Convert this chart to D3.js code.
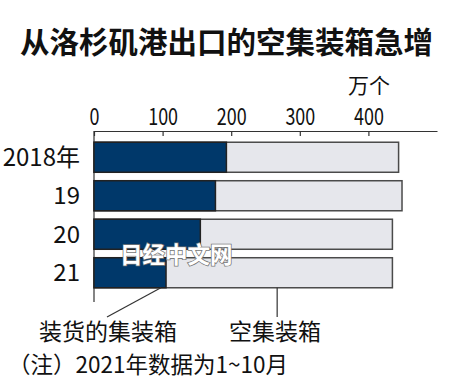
<!DOCTYPE html>
<html>
<head>
<meta charset="utf-8">
<script src="https://cdn.jsdelivr.net/npm/d3@7"></script>
<style>
  body { margin: 0; background: #fff; }
  text { font-family: "Noto Sans CJK SC", "Noto Sans", sans-serif; fill: #111; }
</style>
</head>
<body>
<script>
// data (万个)
var years = ["2018年", "19", "20", "21"];
var loaded = [193, 177, 155, 105];
var empty = [251, 272, 280, 330];
var ticks = [0, 100, 200, 300, 400];

var rows = years.map(function(y, i) {
  return { year: y, loaded: loaded[i], empty: empty[i] };
});

var svgWidth = 450, svgHeight = 386;

var svg = d3.select("body")
  .append("svg")
  .attr("width", svgWidth)
  .attr("height", svgHeight);

// title
svg.append("text")
  .attr("x", 20)
  .attr("y", 53)
  .attr("font-size", 29.5)
  .attr("font-weight", "bold")
  .text("从洛杉矶港出口的空集装箱急增");

var xScale = d3.scaleLinear()
  .domain([0, 500])
  .range([94, 437]);

var yScale = d3.scaleBand()
  .domain(years)
  .range([138, 292])
  .paddingInner(0.22)
  .paddingOuter(0.11);

// unit label
svg.append("text")
  .attr("x", 369)
  .attr("y", 93)
  .attr("text-anchor", "middle")
  .attr("font-size", 21)
  .text("万个");

// top axis
var xAxis = d3.axisTop(xScale).tickValues(ticks).tickSize(5).tickSizeOuter(0);
var axisG = svg.append("g")
  .attr("transform", "translate(0,131)")
  .call(xAxis);
axisG.select(".domain").attr("stroke", "#333").attr("stroke-width", 1.2);
axisG.selectAll(".tick line").attr("stroke", "#333").attr("stroke-width", 1.2)
  .attr("y2", 5);
axisG.selectAll(".tick text")
  .attr("y", -6)
  .attr("font-size", 23)
  .attr("font-family", "Noto Sans CJK SC")
  .attr("fill", "#111")
  .attr("transform", "scale(0.78,1)");

// left vertical line
svg.append("line")
  .attr("x1", xScale(0)).attr("x2", xScale(0))
  .attr("y1", 131).attr("y2", 302)
  .attr("stroke", "#333").attr("stroke-width", 1.2);

// bars
var barG = svg.append("g");
barG.selectAll(".total")
  .data(rows)
  .enter()
  .append("rect")
  .attr("class", "total")
  .attr("x", xScale(0))
  .attr("y", d => yScale(d.year))
  .attr("width", d => xScale(d.loaded + d.empty) - xScale(0))
  .attr("height", yScale.bandwidth())
  .attr("fill", "#e6e7ec")
  .attr("stroke", "#4a4a4a")
  .attr("stroke-width", 1.5);

barG.selectAll(".loaded")
  .data(rows)
  .enter()
  .append("rect")
  .attr("class", "loaded")
  .attr("x", xScale(0))
  .attr("y", d => yScale(d.year))
  .attr("width", d => xScale(d.loaded) - xScale(0))
  .attr("height", yScale.bandwidth())
  .attr("fill", "#00386a")
  .attr("stroke", "#222")
  .attr("stroke-width", 1.5);

// year labels
svg.selectAll(".ylab")
  .data(rows)
  .enter()
  .append("text")
  .attr("class", "ylab")
  .attr("x", 80)
  .attr("y", d => yScale(d.year) + yScale.bandwidth() / 2 + 8.5)
  .attr("text-anchor", "end")
  .attr("font-size", 24)
  .text(d => d.year);

// leader lines
var last = rows[rows.length - 1];
var barBottom = yScale(last.year) + yScale.bandwidth();
svg.append("line")
  .attr("x1", xScale(last.loaded / 2 + 45)).attr("y1", barBottom)
  .attr("x2", 107).attr("y2", 317)
  .attr("stroke", "#333").attr("stroke-width", 1.2);
svg.append("line")
  .attr("x1", xScale(267)).attr("x2", xScale(267))
  .attr("y1", barBottom).attr("y2", 317)
  .attr("stroke", "#333").attr("stroke-width", 1.2);

// legend labels
svg.append("text")
  .attr("x", 39).attr("y", 340)
  .attr("font-size", 23)
  .text("装货的集装箱");
svg.append("text")
  .attr("x", 229).attr("y", 340)
  .attr("font-size", 23)
  .text("空集装箱");

// note
svg.append("text")
  .attr("x", 8).attr("y", 373)
  .attr("font-size", 22.5)
  .text("（注）2021年数据为1~10月");

// watermark
svg.append("text")
  .attr("x", 120).attr("y", 263)
  .attr("font-size", 22.5)
  .attr("font-weight", "bold")
  .attr("stroke", "#777")
  .attr("stroke-width", 1.5)
  .attr("paint-order", "stroke")
  .style("fill", "#fff")
  .text("日经中文网");
</script>
</body>
</html>
